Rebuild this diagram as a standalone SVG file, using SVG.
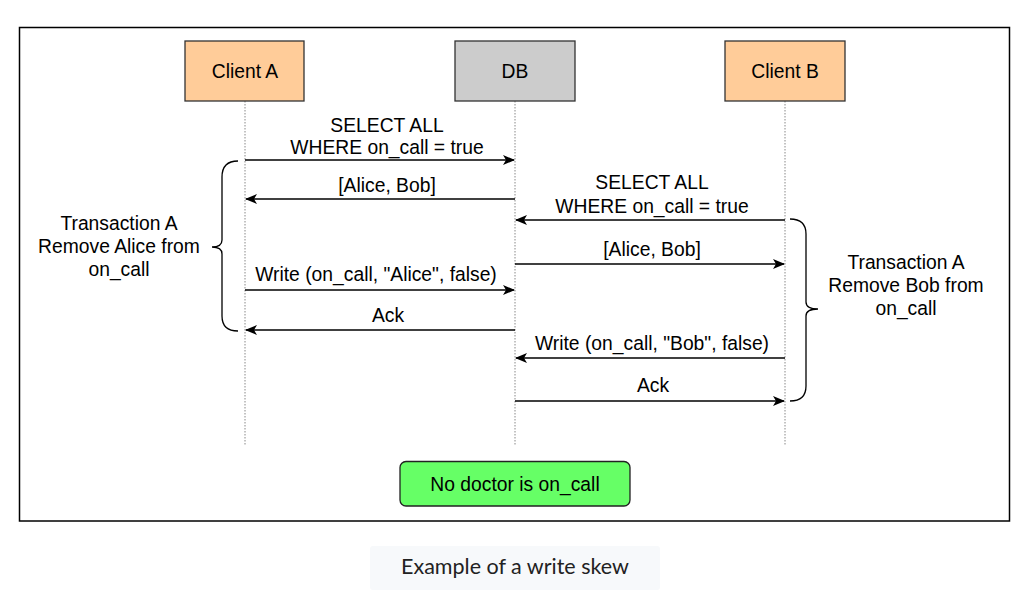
<svg xmlns="http://www.w3.org/2000/svg" width="1024" height="592" viewBox="0 0 1024 592">
<style>
.t{font-family:"Liberation Sans",Arial,sans-serif;font-size:19.3px;fill:#000;text-anchor:middle}
.life{stroke:#888;stroke-width:1;stroke-dasharray:1.5 1.5;fill:none}
.msg{stroke:#000;stroke-width:1.3;fill:none;marker-end:url(#ah)}
.brace{stroke:#000;stroke-width:1.3;fill:none}
.actor{stroke:#333;stroke-width:1.3}
</style>
<defs>
<marker id="ah" viewBox="0 0 12 10" refX="11" refY="5" markerWidth="12" markerHeight="10" markerUnits="userSpaceOnUse" orient="auto">
<path d="M0,0 L12,5 L0,10 L3,5 Z" fill="#000"/>
</marker>
</defs>
<rect x="0" y="0" width="1024" height="592" fill="#fff"/>
<rect x="19.5" y="27.5" width="990" height="493.5" fill="#fff" stroke="#000" stroke-width="1.5"/>

<g id="lifelines">
<line class="life" x1="245" y1="101" x2="245" y2="445"/>
<line class="life" x1="515" y1="101" x2="515" y2="445"/>
<line class="life" x1="785" y1="101" x2="785" y2="445"/>
</g>

<g id="clientA">
<rect class="actor" x="185" y="41" width="119" height="60" fill="#ffcc99"/>
<text class="t" x="245" y="78">Client A</text>
</g>
<g id="db">
<rect class="actor" x="455" y="41" width="120" height="60" fill="#cccccc"/>
<text class="t" x="515" y="78">DB</text>
</g>
<g id="clientB">
<rect class="actor" x="725" y="41" width="120" height="60" fill="#ffcc99"/>
<text class="t" x="785" y="78">Client B</text>
</g>

<g id="connectors">
<line class="msg" x1="245" y1="160" x2="514" y2="160"/>
<line class="msg" x1="515" y1="199" x2="246" y2="199"/>
<line class="msg" x1="785" y1="220" x2="516" y2="220"/>
<line class="msg" x1="515" y1="264" x2="784" y2="264"/>
<line class="msg" x1="245" y1="290" x2="514" y2="290"/>
<line class="msg" x1="515" y1="330" x2="246" y2="330"/>
<line class="msg" x1="785" y1="358" x2="516" y2="358"/>
<line class="msg" x1="515" y1="401" x2="784" y2="401"/>
</g>

<g id="labels">
<text class="t" x="387" y="132">SELECT ALL</text>
<text class="t" x="387" y="154">WHERE on_call = true</text>
<text class="t" x="387" y="192">[Alice, Bob]</text>
<text class="t" x="652" y="189">SELECT ALL</text>
<text class="t" x="652" y="213">WHERE on_call = true</text>
<text class="t" x="652" y="256">[Alice, Bob]</text>
<text class="t" x="376" y="281">Write (on_call, "Alice", false)</text>
<text class="t" x="388" y="322">Ack</text>
<text class="t" x="652" y="350">Write (on_call, "Bob", false)</text>
<text class="t" x="653" y="392">Ack</text>
</g>

<g id="braceA">
<path class="brace" d="M238,161 Q222,161 222,177 L222,240 Q222,247 212,247 Q222,247 222,254 L222,316 Q222,331 238,331"/>
<text class="t" x="119" y="230">Transaction A</text>
<text class="t" x="119" y="253">Remove Alice from</text>
<text class="t" x="119" y="276">on_call</text>
</g>

<g id="braceB">
<path class="brace" d="M790,219 Q806,219 806,234 L806,302 Q806,309 818,309 Q806,309 806,316 L806,386 Q806,401 790,401"/>
<text class="t" x="906" y="269">Transaction A</text>
<text class="t" x="906" y="292">Remove Bob from</text>
<text class="t" x="906" y="315">on_call</text>
</g>

<g id="result">
<rect x="400" y="461.5" width="230" height="44.5" rx="6" fill="#66ff66" stroke="#222" stroke-width="1.3"/>
<text class="t" x="515" y="491">No doctor is on_call</text>
</g>

<g id="caption">
<rect x="370" y="546" width="290" height="44" rx="3" fill="#f7f9fb"/>
<text x="515" y="574" font-family="Lato, 'Open Sans', sans-serif" font-size="21.5" fill="#222" text-anchor="middle">Example of a write skew</text>
</g>
</svg>
